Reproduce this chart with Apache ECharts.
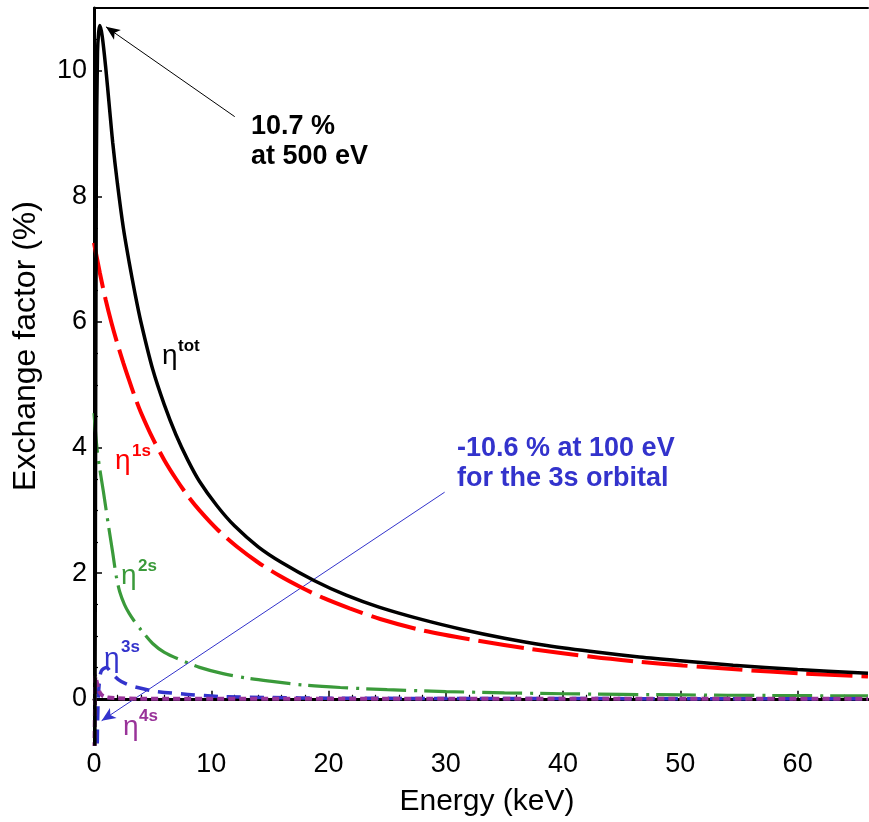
<!DOCTYPE html>
<html>
<head>
<meta charset="utf-8">
<style>
  html, body { margin: 0; padding: 0; background: #fff; }
  #chart { width: 869px; height: 822px; }
</style>
<script src="https://cdn.jsdelivr.net/npm/echarts@6/dist/echarts.min.js"></script>
</head>
<body>
<div id="chart"></div>
<script>
// ---- Data (Energy in keV, exchange factor in %) ----
const totE = [0.07, 0.1, 0.2, 0.3, 0.4, 0.5, 0.7, 1.0, 1.3, 1.6, 2.0, 2.5, 3.0, 3.5, 4.0, 5.0, 6.0, 7.0, 8.0, 9.0, 10.5, 12, 14, 16, 18.8, 21.5, 24.3, 28, 31.5, 35, 38.6, 43, 46.5, 50, 54.5, 60, 66];
const totV = [-0.8, 1.0, 8.5, 10.3, 10.62, 10.72, 10.55, 10.05, 9.45, 8.85, 8.2, 7.5, 6.95, 6.45, 6.0, 5.25, 4.68, 4.2, 3.8, 3.46, 3.07, 2.75, 2.42, 2.17, 1.88, 1.65, 1.46, 1.26, 1.1, 0.965, 0.85, 0.74, 0.665, 0.605, 0.535, 0.465, 0.405];

const s1E = [0, 0.5, 1.0, 1.5, 2.0, 2.5, 3.0, 3.5, 4.0, 5.0, 6.0, 7.0, 8.0, 9.0, 10.5, 12.2, 14, 15.9, 17.6, 19.5, 21.8, 24.4, 28, 32.9, 37, 42.6, 46.5, 50.2, 55, 60.2, 66];
const s1V = [7.26, 6.78, 6.35, 5.98, 5.65, 5.35, 5.07, 4.8, 4.56, 4.15, 3.8, 3.5, 3.23, 3.0, 2.7, 2.42, 2.17, 1.95, 1.78, 1.61, 1.44, 1.27, 1.09, 0.92, 0.8, 0.665, 0.59, 0.53, 0.465, 0.405, 0.355];

const s2E = [0, 0.25, 0.5, 0.8, 1.2, 1.6, 1.9, 2.2, 2.6, 3.0, 3.5, 4.0, 5.0, 6.0, 7.5, 9.0, 11, 13, 15, 17.8, 21, 25, 30, 35, 40, 50, 58, 66];
const s2V = [4.55, 4.0, 3.65, 3.3, 2.8, 2.32, 1.95, 1.7, 1.5, 1.36, 1.22, 1.1, 0.88, 0.74, 0.61, 0.5, 0.4, 0.33, 0.28, 0.22, 0.18, 0.145, 0.115, 0.095, 0.08, 0.062, 0.052, 0.045];

const s3E = [0.1, 0.2, 0.28, 0.35, 0.45, 0.62, 1.05, 1.5, 2.05, 2.7, 3.47, 5.2, 8, 10.9, 15, 20, 30, 66];
const s3V = [-10.6, -3.0, -0.7, -0.05, 0.25, 0.44, 0.5, 0.41, 0.31, 0.24, 0.19, 0.12, 0.07, 0.035, 0.02, 0.01, 0.005, 0.0];

const s4E = [0.04, 0.08, 0.12, 0.2, 0.35, 0.5, 0.77, 1.2, 2, 4, 66];
const s4V = [-0.8, -0.2, 0.36, 0.3, 0.18, 0.1, 0.045, 0.02, 0.01, 0.0, 0.0];

const xTicks = [0, 10, 20, 30, 40, 50, 60];
const xMinorTicks = [2, 4, 6, 8, 12, 14, 16, 18, 22, 24, 26, 28, 32, 34, 36, 38, 42, 44, 46, 48, 52, 54, 56, 58, 62, 64];
const yTicks = [0, 2, 4, 6, 8, 10];
const yMinorTicks = [-0.5, 0.5, 1, 1.5, 2.5, 3, 3.5, 4.5, 5, 5.5, 6.5, 7, 7.5, 8.5, 9, 9.5, 10.5];

const zip = (a, b) => a.map((v, i) => [v, b[i]]);

const FONT = '"Liberation Sans", Arial, Helvetica, sans-serif';
const C_RED = '#ff0000', C_GREEN = '#3a9a3a', C_BLUE = '#3333cc', C_PURPLE = '#993399';

const chart = echarts.init(document.getElementById('chart'), null, { renderer: 'canvas' });

const X_MIN = 0, X_MAX = 66, Y_MIN = -0.72, Y_MAX = 11;

const option = {
  animation: false,
  backgroundColor: '#ffffff',
  grid: { left: 94, right: 1, top: 8, bottom: 77, containLabel: false },
  xAxis: [
    {
      type: 'value', min: X_MIN, max: X_MAX, position: 'bottom',
      axisLine: { show: true, lineStyle: { color: '#000', width: 3 } },
      axisTick: { show: true, inside: true, length: 8, lineStyle: { color: '#000', width: 1.5 }, customValues: xTicks },
      axisLabel: { show: true, customValues: xTicks, fontSize: 27, color: '#000', fontFamily: FONT, margin: 7 },
      splitLine: { show: false },
      name: 'Energy (keV)', nameLocation: 'middle', nameGap: 43,
      nameTextStyle: { fontSize: 30, color: '#000', fontFamily: FONT, padding: [0, 0, 0, 12] }
    },
    {
      type: 'value', min: X_MIN, max: X_MAX, position: 'bottom',
      axisLine: { show: false },
      axisTick: { show: true, inside: true, length: 4, lineStyle: { color: '#000', width: 1.2 }, customValues: xMinorTicks },
      axisLabel: { show: false }, splitLine: { show: false }
    },
    {
      type: 'value', min: X_MIN, max: X_MAX, position: 'top',
      axisLine: { show: true, lineStyle: { color: '#000', width: 2 } },
      axisTick: { show: false }, axisLabel: { show: false }, splitLine: { show: false }
    }
  ],
  yAxis: [
    {
      type: 'value', min: Y_MIN, max: Y_MAX, position: 'left',
      axisLine: { show: true, lineStyle: { color: '#000', width: 3 } },
      axisTick: { show: true, inside: true, length: 8, lineStyle: { color: '#000', width: 1.5 }, customValues: yTicks },
      axisLabel: { show: true, customValues: yTicks, fontSize: 27, color: '#000', fontFamily: FONT, margin: 7 },
      splitLine: { show: false },
      name: 'Exchange factor (%)', nameLocation: 'middle', nameGap: 52,
      nameTextStyle: { fontSize: 32, color: '#000', fontFamily: FONT, padding: [0, 0, 0, 60] }
    },
    {
      type: 'value', min: Y_MIN, max: Y_MAX, position: 'left',
      axisLine: { show: false },
      axisTick: { show: true, inside: true, length: 4, lineStyle: { color: '#000', width: 1.2 }, customValues: yMinorTicks },
      axisLabel: { show: false }, splitLine: { show: false }
    }
  ],
  series: [
    {
      name: 'eta2s', type: 'line', data: zip(s2E, s2V), showSymbol: false, smooth: 0.3, z: 3,
      lineStyle: { color: C_GREEN, width: 3.2, type: [40, 8, 3, 7] }
    },
    {
      name: 'eta3s', type: 'line', data: zip(s3E, s3V), showSymbol: false, smooth: 0.3, z: 4,
      lineStyle: { color: C_BLUE, width: 3.5, type: [14, 9] },
      markLine: {
        silent: true, animation: false, symbol: ['none', 'arrow'], symbolSize: [9, 14],
        label: { show: false },
        lineStyle: { color: C_BLUE, width: 1, type: 'solid' },
        data: [[{ coord: [29.9, 3.29] }, { coord: [0.65, -0.35] }]]
      }
    },
    {
      name: 'eta4s', type: 'line', data: zip(s4E, s4V), showSymbol: false, smooth: 0.3, z: 5,
      lineStyle: { color: C_PURPLE, width: 4, type: [7, 4] }
    },
    {
      name: 'eta1s', type: 'line', data: zip(s1E, s1V), showSymbol: false, smooth: 0.3, z: 6,
      lineStyle: { color: C_RED, width: 4, type: [46, 9] }
    },
    {
      name: 'etatot', type: 'line', data: zip(totE, totV), showSymbol: false, smooth: 0.3, z: 7,
      lineStyle: { color: '#000', width: 3.5, type: 'solid' },
      markLine: {
        silent: true, animation: false, symbol: ['none', 'arrow'], symbolSize: [9, 14],
        label: { show: false },
        lineStyle: { color: '#000', width: 1, type: 'solid' },
        data: [[{ coord: [12.0, 9.27] }, { coord: [1.02, 10.70] }]]
      }
    }
  ],
  graphic: [
    // curve labels (eta + superscript)
    { type: 'text', x: 162, y: 356, z: 100, style: { text: 'η', fontSize: 28, fontFamily: FONT, fill: '#000', verticalAlign: 'middle' } },
    { type: 'text', x: 178, y: 346, z: 100, style: { text: 'tot', fontSize: 17, fontWeight: 'bold', fontFamily: FONT, fill: '#000', verticalAlign: 'middle' } },

    { type: 'text', x: 115, y: 461, z: 100, style: { text: 'η', fontSize: 28, fontFamily: FONT, fill: C_RED, verticalAlign: 'middle' } },
    { type: 'text', x: 132, y: 451, z: 100, style: { text: '1s', fontSize: 17, fontWeight: 'bold', fontFamily: FONT, fill: C_RED, verticalAlign: 'middle' } },

    { type: 'text', x: 121, y: 576, z: 100, style: { text: 'η', fontSize: 28, fontFamily: FONT, fill: C_GREEN, verticalAlign: 'middle' } },
    { type: 'text', x: 138, y: 566, z: 100, style: { text: '2s', fontSize: 17, fontWeight: 'bold', fontFamily: FONT, fill: C_GREEN, verticalAlign: 'middle' } },

    { type: 'text', x: 104, y: 659, z: 100, style: { text: 'η', fontSize: 28, fontFamily: FONT, fill: C_BLUE, verticalAlign: 'middle' } },
    { type: 'text', x: 121, y: 647, z: 100, style: { text: '3s', fontSize: 17, fontWeight: 'bold', fontFamily: FONT, fill: C_BLUE, verticalAlign: 'middle' } },

    { type: 'text', x: 123, y: 727, z: 100, style: { text: 'η', fontSize: 28, fontFamily: FONT, fill: C_PURPLE, verticalAlign: 'middle' } },
    { type: 'text', x: 139, y: 716, z: 100, style: { text: '4s', fontSize: 17, fontWeight: 'bold', fontFamily: FONT, fill: C_PURPLE, verticalAlign: 'middle' } },

    // annotations
    { type: 'text', x: 251, y: 112, z: 100, style: { text: '10.7 %\nat 500 eV', fontSize: 27, lineHeight: 30, fontWeight: 'bold', fontFamily: FONT, fill: '#000', verticalAlign: 'top' } },
    { type: 'text', x: 457, y: 434, z: 100, style: { text: '-10.6 % at 100 eV\nfor the 3s orbital', fontSize: 27, lineHeight: 30, fontWeight: 'bold', fontFamily: FONT, fill: C_BLUE, verticalAlign: 'top' } }
  ]
};

chart.setOption(option);
</script>
</body>
</html>
